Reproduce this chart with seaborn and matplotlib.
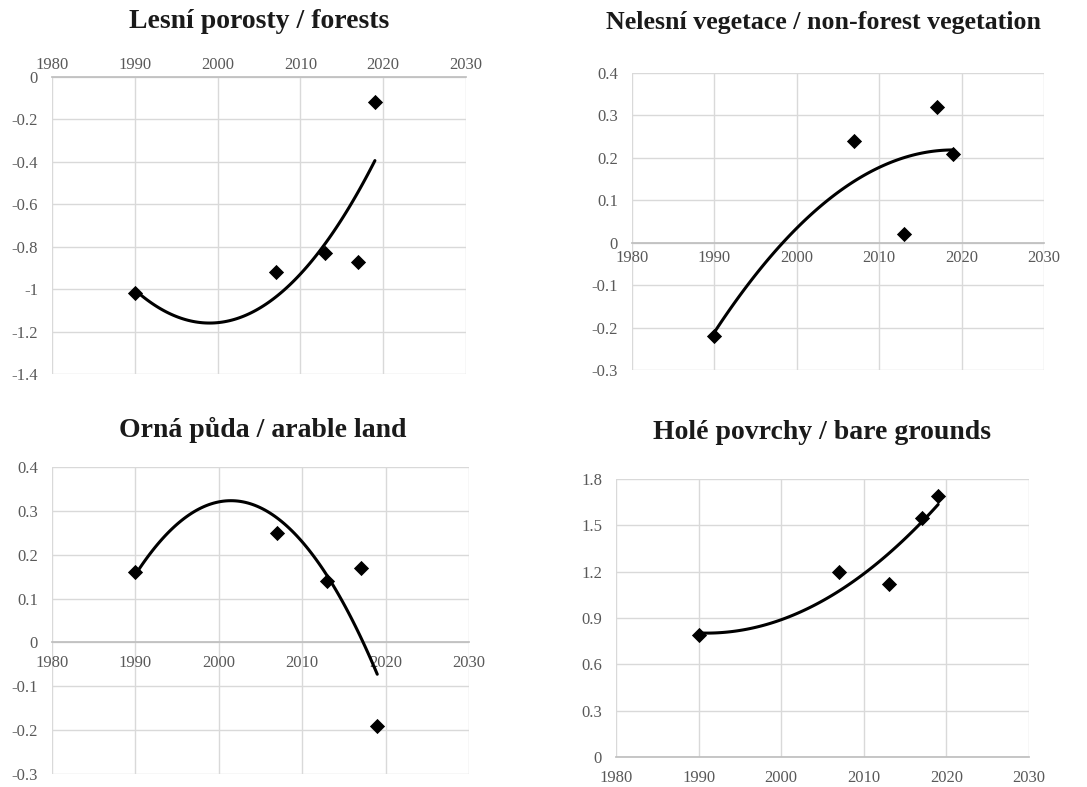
import numpy as np
import pandas as pd
import matplotlib
matplotlib.use("Agg")
import matplotlib.pyplot as plt
import seaborn as sns
from matplotlib.ticker import FuncFormatter, MultipleLocator

sns.set_theme(style="white")
plt.rcParams['font.family'] = ['Liberation Serif', 'DejaVu Serif']

years = [1990, 2007, 2013, 2017, 2019]
forests = [-1.02, -0.92, -0.83, -0.87, -0.12]
nonforest = [-0.22, 0.24, 0.02, 0.32, 0.21]
arable = [0.16, 0.25, 0.14, 0.17, -0.19]
bare = [0.79, 1.20, 1.12, 1.55, 1.69]

titles = ["Lesní porosty / forests",
          "Nelesní vegetace / non-forest vegetation",
          "Orná půda / arable land",
          "Holé povrchy / bare grounds"]

fig = plt.figure(figsize=(10.87, 7.87), dpi=100)
W, H = 1087, 787

def add_ax(x0, y0, x1, y1):
    return fig.add_axes([x0 / W, 1 - y1 / H, (x1 - x0) / W, (y1 - y0) / H])

panels = [
    dict(vals=forests, box=(52, 77, 466, 374), ylim=(-1.4, 0), ystep=0.2, axis='top', xpad=3, title=titles[0], tpos=(259, 21), tsize=20),
    dict(vals=nonforest, box=(632, 73, 1044, 370), ylim=(-0.3, 0.4), ystep=0.1, axis='zero', xpad=5, title=titles[1], tpos=(823, 22), tsize=18.6),
    dict(vals=arable, box=(52, 467, 469, 774), ylim=(-0.3, 0.4), ystep=0.1, axis='zero', xpad=9, title=titles[2], tpos=(263, 430), tsize=20),
    dict(vals=bare, box=(616, 479, 1029, 757), ylim=(0, 1.8), ystep=0.3, axis='bottom', xpad=9, title=titles[3], tpos=(822, 432), tsize=20),
]

grid_c = '#d9d9d9'
axis_c = '#bfbfbf'
tick_c = '#595959'
fmt = FuncFormatter(lambda v, p: '{:g}'.format(round(v, 2)))

for p in panels:
    ax = add_ax(*p['box'])
    df = pd.DataFrame({'year': years, 'value': p['vals']})
    sns.regplot(data=df, x='year', y='value', order=2, ci=None, ax=ax,
                marker='D', scatter_kws=dict(color='black', s=60, alpha=1, zorder=3, linewidths=0),
                line_kws=dict(color='black', lw=2.2, zorder=4))
    ax.set_xlim(1980, 2030)
    ax.set_ylim(*p['ylim'])
    ax.xaxis.set_major_locator(MultipleLocator(10))
    ax.yaxis.set_major_locator(MultipleLocator(p['ystep']))
    ax.yaxis.set_major_formatter(fmt)
    ax.set_xlabel('')
    ax.set_ylabel('')
    ax.grid(True, color=grid_c, lw=1.0)
    ax.set_axisbelow(True)
    for s in ['left', 'right', 'top', 'bottom']:
        ax.spines[s].set_visible(False)
    if p['axis'] == 'top':
        ax.xaxis.tick_top()
        ax.spines['top'].set_visible(True)
        ax.spines['top'].set_color(axis_c)
    elif p['axis'] == 'zero':
        ax.spines['bottom'].set_visible(True)
        ax.spines['bottom'].set_position(('data', 0))
        ax.spines['bottom'].set_color(axis_c)
    else:
        ax.spines['bottom'].set_visible(True)
        ax.spines['bottom'].set_color(axis_c)
    ax.tick_params(axis='x', length=0, labelsize=12, colors=tick_c, pad=p['xpad'])
    ax.tick_params(axis='y', length=0, labelsize=12, colors=tick_c, pad=10)
    fig.text(p['tpos'][0] / W, 1 - p['tpos'][1] / H, p['title'], ha='center', va='center',
             fontsize=p['tsize'], fontweight='bold', color='#1a1a1a')

fig.savefig('out.png', dpi=100)
